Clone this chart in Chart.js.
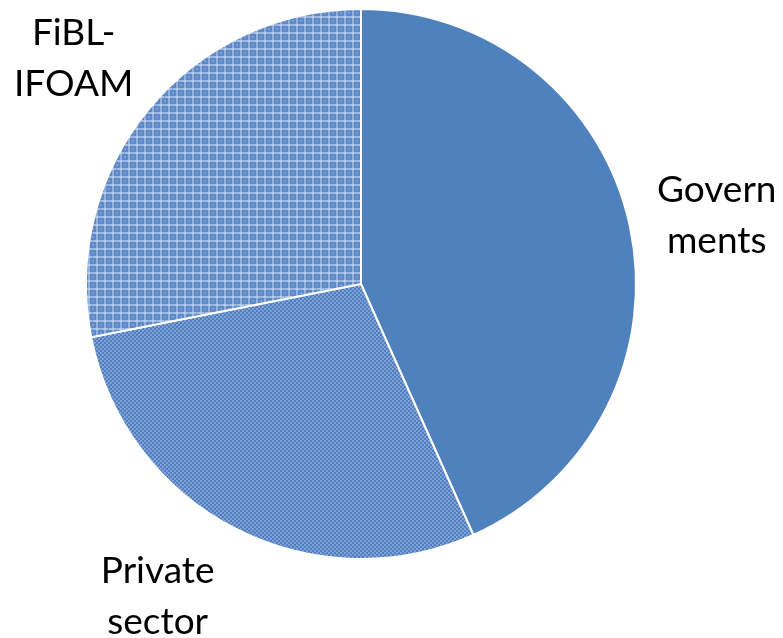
<!DOCTYPE html>
<html>
<head>
<meta charset="utf-8">
<script src="https://cdn.jsdelivr.net/npm/chart.js@4.4.1/dist/chart.umd.min.js"></script>
<style>
  html, body { margin: 0; padding: 0; background: #fff; }
  #wrap { width: 783px; height: 638px; }
</style>
</head>
<body>
<div id="wrap"><canvas id="pieChart" width="783" height="638"></canvas></div>
<script>
  const labels = [["Govern", "ments"], ["Private", "sector"], ["FiBL-", "IFOAM"]];
  const shares = [43.3, 28.6, 28.1];
  // label nudge: [angle shift in degrees, distance as share of radius]
  const labelNudge = [[3, 1.31], [4.7, 1.393], [-2.8, 1.302]];

  // excel-ish texture fills
  function makePattern(draw, size) {
    const c = document.createElement('canvas');
    c.width = size; c.height = size;
    draw(c.getContext('2d'));
    return c.getContext('2d').createPattern(c, 'repeat');
  }

  const privatePattern = makePattern(g => {
    g.fillStyle = '#4f7fc0';
    g.fillRect(0, 0, 4, 4);
    g.fillStyle = '#86a6d8';
    g.fillRect(0, 0, 2, 2);
    g.fillRect(2, 2, 2, 2);
    g.fillStyle = '#6a92cd';
    g.fillRect(1, 1, 1, 1);
    g.fillRect(3, 3, 1, 1);
  }, 4);

  const fiblPattern = makePattern(g => {
    g.fillStyle = '#5e89c8';
    g.fillRect(0, 0, 8, 8);
    g.fillStyle = '#a3bde5';
    g.fillRect(0, 0, 8, 2);
    g.fillStyle = '#95b2df';
    g.fillRect(0, 0, 2, 8);
    g.fillStyle = '#b8ceee';
    g.fillRect(0, 0, 2, 2);
    g.fillStyle = '#7b9fd6';
    g.fillRect(4, 4, 2, 2);
    g.fillStyle = '#8aaadb';
    g.fillRect(4, 0, 1, 2);
  }, 8);

  // category labels outside the pie, placed along each slice's middle angle
  const outsideLabels = {
    id: 'outsideLabels',
    afterDatasetsDraw(chart) {
      const ctx = chart.ctx;
      const meta = chart.getDatasetMeta(0);
      ctx.save();
      ctx.font = '37px Lato';
      ctx.fillStyle = '#000';
      ctx.textAlign = 'center';
      ctx.textBaseline = 'alphabetic';
      meta.data.forEach((arc, i) => {
        const p = arc.getProps(['x', 'y', 'startAngle', 'endAngle', 'outerRadius'], true);
        const mid = (p.startAngle + p.endAngle) / 2 + labelNudge[i][0] * Math.PI / 180;
        const r = p.outerRadius * labelNudge[i][1];
        const cx = p.x + Math.cos(mid) * r;
        const cy = p.y + Math.sin(mid) * r;
        labels[i].forEach((line, j) => {
          ctx.fillText(line, cx, cy + (j - 0.5) * 51);
        });
      });
      ctx.restore();
    }
  };

  const ctx = document.getElementById('pieChart').getContext('2d');
  new Chart(ctx, {
    type: 'pie',
    data: {
      labels: labels.map(l => l.join('')),
      datasets: [{
        data: shares,
        backgroundColor: ['#4f81bd', privatePattern, fiblPattern],
        borderColor: '#ffffff',
        borderWidth: 2
      }]
    },
    options: {
      responsive: false,
      animation: false,
      layout: { padding: { left: 85, right: 146, top: 8, bottom: 78 } },
      plugins: {
        legend: { display: false },
        tooltip: { enabled: false }
      }
    },
    plugins: [outsideLabels]
  });
</script>
</body>
</html>
